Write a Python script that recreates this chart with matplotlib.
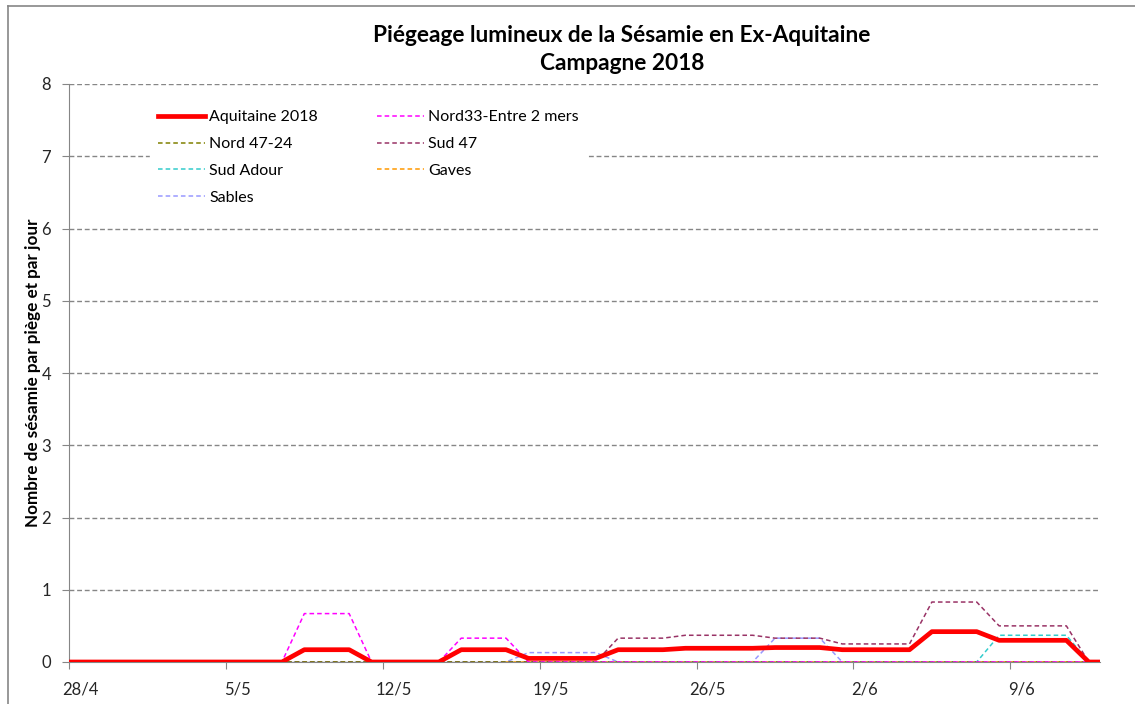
import matplotlib
matplotlib.use("Agg")
import matplotlib.pyplot as plt
import numpy as np
import pandas as pd
from matplotlib.lines import Line2D

plt.rcParams["font.family"] = ["Lato", "DejaVu Sans"]

# one value per day, 27/4 -> 13/6; the axis shows 28/4 -> 12/6
days = pd.date_range("2018-04-27", periods=48, freq="D")
nan = np.nan

aquitaine = [0,
             0, 0, 0, 0, 0, 0, 0, 0, 0, 0,
             0.17, 0.17, 0.17, 0, 0, 0, 0, 0.17, 0.17, 0.17,
             0.05, 0.05, 0.05, 0.05, 0.17, 0.17, 0.17, 0.19, 0.19, 0.19,
             0.19, 0.20, 0.20, 0.20, 0.17, 0.17, 0.17, 0.17, 0.42, 0.42,
             0.42, 0.30, 0.30, 0.30, 0.30, 0,
             0]
nord33 = [0,
          0, 0, 0, 0, 0, 0, 0, 0, 0, 0,
          0.67, 0.67, 0.67, 0, 0, 0, 0, 0.33, 0.33, 0.33,
          0, 0, 0, 0, 0, 0, 0, 0, 0, 0,
          0, 0, 0, 0, 0, 0, 0, 0, 0, 0,
          0, 0, 0, 0, 0, 0,
          0]
nord47 = [0] * 48
sud47 = [0,
         0, 0, 0, 0, 0, 0, 0, 0, 0, 0,
         0, 0, 0, 0, 0, 0, 0, 0, 0, 0,
         0, 0, 0, 0, 0.33, 0.33, 0.33, 0.37, 0.37, 0.37,
         0.37, 0.33, 0.33, 0.33, 0.25, 0.25, 0.25, 0.25, 0.83, 0.83,
         0.83, 0.50, 0.50, 0.50, 0.50, 0,
         0]
sud_adour = [0] * 42 + [0.37, 0.37, 0.37, 0.37, 0, 0]
gaves = [nan] * 20 + [0] * 28
sables = [0,
          0, 0, 0, 0, 0, 0, 0, 0, 0, 0,
          0, 0, 0, 0, 0, 0, 0, 0, 0, 0,
          0.13, 0.13, 0.13, 0.13, 0, 0, 0, 0, 0, 0,
          0, 0.33, 0.33, 0.33, 0, 0, 0, 0, 0, 0,
          0, 0, 0, 0, 0, 0,
          0]

series = [
    ("Aquitaine 2018", aquitaine, "#FF0000"),
    ("Nord33-Entre 2 mers", nord33, "#FF00FF"),
    ("Nord 47-24", nord47, "#808000"),
    ("Sud 47", sud47, "#993366"),
    ("Sud Adour", sud_adour, "#33CCCC"),
    ("Gaves", gaves, "#FF9900"),
    ("Sables", sables, "#9999FF"),
]

fig = plt.figure(figsize=(11.35, 7.04), dpi=100)
ax = fig.add_axes([69 / 1135, 1 - 662 / 704, (1100 - 69) / 1135, (662 - 84) / 704])

# x = day offset from 28/4
x = np.arange(len(days)) - 1
handles = {}
# thin series first, the red total on top
for name, values, color in reversed(series):
    if name == "Aquitaine 2018":
        h, = ax.plot(x, values, color=color, lw=3.4, solid_joinstyle="round", zorder=5, label=name)
    else:
        h, = ax.plot(x, values, color=color, lw=1.1, dashes=(3, 2), zorder=4, label=name)
    handles[name] = h

ax.set_xlim(-0.5, 45.5)
ax.set_ylim(0, 8)
ax.set_yticks(range(0, 9))
ax.tick_params(axis="y", length=5, color="#868686", labelsize=12, labelcolor="#262626", pad=8)
ax.yaxis.grid(True, color="#868686", linestyle=(0, (3.5, 2)), lw=1.0)
ax.set_axisbelow(True)

# ticks between categories, labels on categories
ax.set_xticks(np.arange(-0.5, 46, 7))
ax.set_xticklabels([])
ax.tick_params(axis="x", which="major", length=5, color="#868686")
lab_pos = np.arange(0, 46, 7)
ax.set_xticks(lab_pos, minor=True)
ax.set_xticklabels([f"{days[i + 1].day}/{days[i + 1].month}" for i in lab_pos], minor=True)
ax.tick_params(axis="x", which="minor", length=0, labelsize=12, labelcolor="#262626", pad=14)

for side in ("top", "right"):
    ax.spines[side].set_visible(False)
for side in ("left", "bottom"):
    ax.spines[side].set_color("#868686")

ax.set_ylabel("Nombre de sésamie par piège et par jour", fontsize=12.3, fontweight="bold", labelpad=0)

order = ["Aquitaine 2018", "Nord 47-24", "Sud Adour", "Sables", "Nord33-Entre 2 mers", "Sud 47", "Gaves"]
leg = ax.legend([handles[n] for n in order], order, ncol=2, loc="upper left",
                bbox_to_anchor=(73 / 1031, 1 - 10 / 578), frameon=True, fancybox=False,
                edgecolor="white", framealpha=1, fontsize=11.5, handlelength=2.95,
                columnspacing=3.7, labelspacing=0.8, handletextpad=0.25, borderpad=0.5)
leg.set_zorder(6)

fig.text(622 / 1135, 1 - 35 / 704, "Piégeage lumineux de la Sésamie en Ex-Aquitaine",
         ha="center", va="center", fontsize=16.3, fontweight="bold")
fig.text(622 / 1135, 1 - 64 / 704, "Campagne 2018",
         ha="center", va="center", fontsize=16.3, fontweight="bold")

# chart area border
fig.add_artist(Line2D([8 / 1135, 8 / 1135], [0, 1 - 6 / 704], transform=fig.transFigure, color="#868686", lw=1.2))
fig.add_artist(Line2D([8 / 1135, 1], [1 - 6 / 704, 1 - 6 / 704], transform=fig.transFigure, color="#868686", lw=1.2))

fig.savefig("out.png", dpi=100)
